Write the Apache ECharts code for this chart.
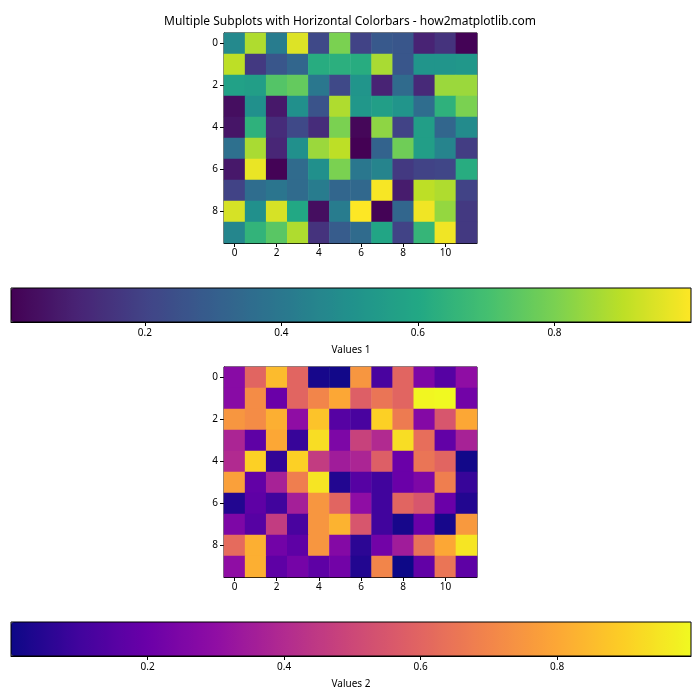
<!DOCTYPE html>
<html>
<head>
<meta charset="utf-8">
<script src="https://cdn.jsdelivr.net/npm/echarts@6/dist/echarts.min.js"></script>
<style>
	html, body { margin: 0; padding: 0; background: #fff; }
	#main { width: 700px; height: 700px; }
</style>
</head>
<body>
<div id="main"></div>
<script>
	var xCats = ['0', '1', '2', '3', '4', '5', '6', '7', '8', '9', '10', '11'];
	var yCats = ['0', '1', '2', '3', '4', '5', '6', '7', '8', '9'];
	var cbTicks = [0.2, 0.4, 0.6, 0.8];

	// 上图 (viridis), 每行12个值
	var values1 = [
		[0.47, 0.88, 0.42, 0.95, 0.22, 0.80, 0.20, 0.28, 0.27, 0.10, 0.15, 0.01],
		[0.90, 0.17, 0.27, 0.33, 0.62, 0.63, 0.62, 0.87, 0.27, 0.52, 0.52, 0.53],
		[0.57, 0.56, 0.73, 0.76, 0.40, 0.22, 0.52, 0.10, 0.35, 0.12, 0.85, 0.85],
		[0.04, 0.50, 0.07, 0.50, 0.26, 0.88, 0.53, 0.56, 0.52, 0.36, 0.64, 0.80],
		[0.06, 0.64, 0.13, 0.22, 0.13, 0.80, 0.02, 0.83, 0.20, 0.56, 0.33, 0.48],
		[0.37, 0.87, 0.11, 0.50, 0.85, 0.90, 0.004, 0.32, 0.78, 0.56, 0.45, 0.18],
		[0.07, 0.97, 0.01, 0.35, 0.50, 0.80, 0.40, 0.45, 0.17, 0.20, 0.21, 0.62],
		[0.20, 0.36, 0.39, 0.35, 0.42, 0.33, 0.34, 0.99, 0.08, 0.90, 0.88, 0.20],
		[0.94, 0.50, 0.94, 0.60, 0.04, 0.42, 1.00, 0.01, 0.33, 0.98, 0.84, 0.17],
		[0.46, 0.65, 0.74, 0.88, 0.15, 0.29, 0.35, 0.59, 0.20, 0.66, 0.98, 0.17]
	];
	// 下图 (plasma)
	var values2 = [
		[0.28, 0.60, 0.85, 0.60, 0.02, 0.01, 0.75, 0.12, 0.60, 0.25, 0.15, 0.30],
		[0.28, 0.72, 0.20, 0.60, 0.70, 0.80, 0.58, 0.65, 0.60, 0.99, 0.996, 0.22],
		[0.75, 0.72, 0.82, 0.30, 0.87, 0.15, 0.12, 0.90, 0.67, 0.27, 0.55, 0.80],
		[0.38, 0.17, 0.80, 0.08, 0.93, 0.25, 0.48, 0.40, 0.93, 0.63, 0.18, 0.37],
		[0.40, 0.90, 0.07, 0.90, 0.46, 0.35, 0.38, 0.58, 0.20, 0.65, 0.60, 0.01],
		[0.78, 0.18, 0.37, 0.68, 0.95, 0.04, 0.15, 0.10, 0.20, 0.25, 0.68, 0.08],
		[0.04, 0.17, 0.10, 0.36, 0.75, 0.60, 0.30, 0.10, 0.60, 0.55, 0.20, 0.04],
		[0.25, 0.15, 0.46, 0.12, 0.75, 0.83, 0.55, 0.10, 0.02, 0.20, 0.02, 0.76],
		[0.62, 0.82, 0.22, 0.17, 0.75, 0.27, 0.06, 0.22, 0.35, 0.64, 0.80, 0.95],
		[0.30, 0.82, 0.17, 0.23, 0.17, 0.22, 0.04, 0.70, 0.00, 0.18, 0.65, 0.17]
	];
	var range1 = [0.004, 1.0];
	var range2 = [0.0, 0.996];

	var viridis = ['#440154', '#482475', '#414487', '#355f8d', '#2a788e', '#21918c',
		'#22a884', '#44bf70', '#7ad151', '#bddf26', '#fde725'];
	var plasma = ['#0d0887', '#41049d', '#6a00a8', '#8f0da4', '#b12a90', '#cc4778',
		'#e16462', '#f2844b', '#fca636', '#fcce25', '#f0f921'];

	var FONT = 'Noto Sans';

	function toCells(rows) {
		var out = [];
		for (var r = 0; r < rows.length; r++) {
			for (var c = 0; c < rows[r].length; c++) {
				out.push([c, r, rows[r][c]]);
			}
		}
		return out;
	}

	var axisText = { color: '#000', fontSize: 10, fontFamily: FONT };
	var blackLine = { show: true, lineStyle: { color: '#000', width: 1 } };

	function heatX(idx) {
		return {
			type: 'category', gridIndex: idx, data: xCats,
			axisLine: blackLine,
			axisTick: { show: true, interval: 1, alignWithLabel: true, length: 4, lineStyle: { color: '#000' } },
			axisLabel: Object.assign({ interval: 1, margin: 5 }, axisText),
			splitLine: { show: false }
		};
	}
	function heatY(idx) {
		return {
			type: 'category', gridIndex: idx, data: yCats, inverse: true,
			axisLine: blackLine,
			axisTick: { show: true, interval: 1, alignWithLabel: true, length: 4, lineStyle: { color: '#000' } },
			axisLabel: Object.assign({ interval: 1, margin: 6 }, axisText),
			splitLine: { show: false }
		};
	}
	function cbX(idx, range, name) {
		return {
			type: 'value', gridIndex: idx, min: range[0], max: range[1],
			name: name, nameLocation: 'middle', nameGap: 23,
			nameTextStyle: { color: '#000', fontSize: 10, fontFamily: FONT },
			axisLine: blackLine,
			axisTick: { show: true, customValues: cbTicks, length: 4, lineStyle: { color: '#000' } },
			axisLabel: Object.assign({ customValues: cbTicks, margin: 6 }, axisText),
			splitLine: { show: false }
		};
	}
	function cbY(idx) {
		return { type: 'value', gridIndex: idx, show: false, min: 0, max: 1 };
	}

	var chart = echarts.init(document.getElementById('main'));
	var option = {
		backgroundColor: '#fff',
		animation: false,
		title: {
			text: 'Multiple Subplots with Horizontal Colorbars - how2matplotlib.com',
			left: 'center', top: 11,
			textStyle: { color: '#000', fontSize: 12, fontWeight: 'normal', fontFamily: FONT }
		},
		grid: [
			{ left: 224, top: 33, width: 253, height: 210, show: true, borderColor: '#000', borderWidth: 1 },
			{ left: 224, top: 367, width: 253, height: 210, show: true, borderColor: '#000', borderWidth: 1 },
			{ left: 11, top: 288, width: 680, height: 34, show: true, borderColor: '#000', borderWidth: 1, z: 10 },
			{ left: 11, top: 622, width: 680, height: 34, show: true, borderColor: '#000', borderWidth: 1, z: 10 }
		],
		xAxis: [heatX(0), heatX(1), cbX(2, range1, 'Values 1'), cbX(3, range2, 'Values 2')],
		yAxis: [heatY(0), heatY(1), cbY(2), cbY(3)],
		visualMap: [
			{
				type: 'continuous', seriesIndex: 0, dimension: 2,
				min: range1[0], max: range1[1], calculable: false, hoverLink: false,
				orient: 'horizontal', left: 11, top: 288, itemWidth: 34, itemHeight: 680,
				padding: 0, text: null, showLabel: false, z: 1,
				inRange: { color: viridis }
			},
			{
				type: 'continuous', seriesIndex: 1, dimension: 2,
				min: range2[0], max: range2[1], calculable: false, hoverLink: false,
				orient: 'horizontal', left: 11, top: 622, itemWidth: 34, itemHeight: 680,
				padding: 0, text: null, showLabel: false, z: 1,
				inRange: { color: plasma }
			}
		],
		series: [
			{ type: 'heatmap', xAxisIndex: 0, yAxisIndex: 0, data: toCells(values1), emphasis: { disabled: true } },
			{ type: 'heatmap', xAxisIndex: 1, yAxisIndex: 1, data: toCells(values2), emphasis: { disabled: true } }
		]
	};
	chart.setOption(option);
</script>
</body>
</html>
